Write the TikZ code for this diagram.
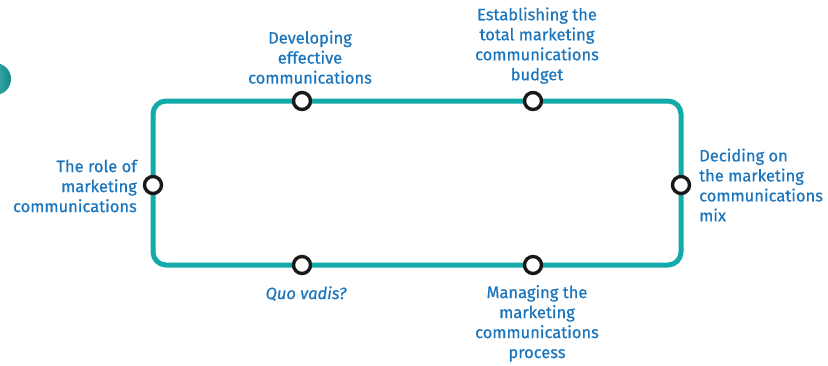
\documentclass[tikz,border=0pt]{standalone}
\usepackage{fontspec}
\setmainfont{Fira Sans}[FakeBold=0.6,UprightFeatures={FakeBold=0.6},ItalicFeatures={FakeBold=0.6}]
\definecolor{teal1}{HTML}{13ABAA}
\definecolor{txtblue}{HTML}{1B75BC}
\begin{document}
\begin{tikzpicture}[x=1pt,y=-1pt,
  lbl/.style={text=txtblue,font=\fontsize{16.5}{20}\selectfont,inner sep=0pt,align=center},
  stop/.style={circle,draw=black!90,line width=3.4pt,fill=white,minimum size=17pt,inner sep=0pt}]
\useasboundingbox (0,0) rectangle (828,365);
\shade[left color=teal1!60!white,right color=teal1!80!black] (-5,79) circle (16);
\draw[teal1,line width=5pt,rounded corners=13pt] (153,101) rectangle (681,265);
\node[stop] (s1) at (153,185) {};
\node[stop] (s2) at (302,101) {};
\node[stop] (s3) at (533,101) {};
\node[stop] (s4) at (681,185) {};
\node[stop] (s5) at (302,265) {};
\node[stop] (s6) at (533,265) {};
\node[lbl,anchor=south] (t2) at (310,84) {Developing\\effective\\communications};
\node[lbl,anchor=south] (t3) at (537,84) {Establishing the\\total marketing\\communications\\budget};
\node[lbl,anchor=east,align=right] (t1) at (137,186) {The role of\\marketing\\communications};
\node[lbl,anchor=west,align=left] (t4) at (699,185) {Deciding on\\the marketing\\communications\\mix};
\node[lbl,anchor=north,font=\fontsize{16.5}{20}\selectfont\itshape] (t5) at (306,286) {Quo vadis?};
\node[lbl,anchor=north] (t6) at (537,285) {Managing the\\marketing\\communications\\process};
\end{tikzpicture}
\end{document}
